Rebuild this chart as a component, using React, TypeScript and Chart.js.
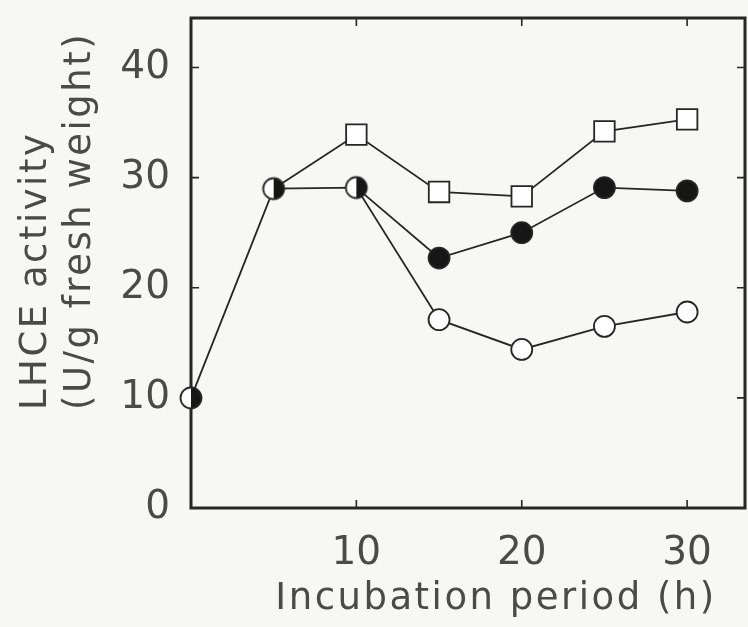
import React, { useEffect, useRef } from "react";
import { Chart, registerables } from "chart.js";

Chart.register(...registerables);

const openHours = [0, 5, 10, 15, 20, 25, 30];
const openValues = [10, 29, 29.1, 17.1, 14.4, 16.5, 17.8];
const filledHours = [10, 15, 20, 25, 30];
const filledValues = [29.1, 22.7, 25.0, 29.1, 28.8];
const squareHours = [5, 10, 15, 20, 25, 30];
const squareValues = [29, 33.9, 28.7, 28.3, 34.2, 35.3];
const halfFilledHours = [0, 5, 10];
const yTickValues = [0, 10, 20, 30, 40];
const xTickValues = [10, 20, 30];
const xTitle = "Incubation period (h)";
const yTitleLines = ["LHCE activity", "(U/g fresh weight)"];

const INK = "#262626";
const TEXT = "#4a4a4a";
const FONT = "'DejaVu Sans', sans-serif";

function makeHalfMarker(): HTMLCanvasElement {
  const c = document.createElement("canvas");
  c.width = 26;
  c.height = 26;
  const g = c.getContext("2d")!;
  const r = 10.5;
  g.beginPath();
  g.arc(13, 13, r, Math.PI / 2, (3 * Math.PI) / 2);
  g.closePath();
  g.fillStyle = "#ffffff";
  g.fill();
  g.beginPath();
  g.arc(13, 13, r, -Math.PI / 2, Math.PI / 2);
  g.closePath();
  g.fillStyle = "#161616";
  g.fill();
  g.beginPath();
  g.arc(13, 13, r, 0, Math.PI * 2);
  g.lineWidth = 1.8;
  g.strokeStyle = INK;
  g.stroke();
  return c;
}

const framePlugin = {
  id: "frameTicks",
  beforeDatasetsDraw(chart: any) {
    const { ctx, chartArea } = chart;
    const { left, right, top, bottom } = chartArea;
    ctx.save();
    ctx.strokeStyle = INK;
    ctx.lineWidth = 3;
    ctx.strokeRect(left, top, right - left, bottom - top);
    const xs = chart.scales.x;
    const ys = chart.scales.y;
    ctx.lineWidth = 1.6;
    const len = 8;
    for (const v of yTickValues) {
      if (v === 0) continue;
      const py = ys.getPixelForValue(v);
      ctx.beginPath();
      ctx.moveTo(left, py);
      ctx.lineTo(left + len, py);
      ctx.moveTo(right, py);
      ctx.lineTo(right - len, py);
      ctx.stroke();
    }
    for (const v of xTickValues) {
      const px = xs.getPixelForValue(v);
      ctx.beginPath();
      ctx.moveTo(px, bottom);
      ctx.lineTo(px, bottom - len);
      ctx.moveTo(px, top);
      ctx.lineTo(px, top + len);
      ctx.stroke();
    }
    ctx.restore();
  },
  afterDraw(chart: any) {
    const { ctx, chartArea } = chart;
    ctx.save();
    ctx.fillStyle = TEXT;
    ctx.font = "37px " + FONT;
    (ctx as any).letterSpacing = "2.5px";
    ctx.textBaseline = "middle";
    const startY = chartArea.top + (chartArea.bottom - chartArea.top) * 0.8;
    const xs = [36, 80];
    yTitleLines.forEach((line, i) => {
      ctx.save();
      ctx.translate(xs[i], startY);
      ctx.rotate(-Math.PI / 2);
      ctx.textAlign = "left";
      ctx.fillText(line, 0, 0);
      ctx.restore();
    });
    ctx.textAlign = "center";
    const cx = (chartArea.left + chartArea.right) / 2 + 28;
    ctx.fillText(xTitle, cx, chartArea.bottom + 91);
    ctx.restore();
  },
};

const zeroPadding = (s: any) => {
  s.paddingLeft = 0;
  s.paddingRight = 0;
  s.paddingTop = 0;
  s.paddingBottom = 0;
};

export default function App() {
  const ref = useRef<HTMLCanvasElement>(null);
  useEffect(() => {
    const half = makeHalfMarker();
    const openStyles = openHours.map((h) => (halfFilledHours.includes(h) ? half : "circle"));
    const chart = new Chart(ref.current!, {
      type: "scatter",
      data: {
        datasets: [
          {
            label: "open",
            data: openHours.map((h, i) => ({ x: h, y: openValues[i] })),
            showLine: true,
            borderColor: INK,
            borderWidth: 1.8,
            pointStyle: openStyles as any,
            pointRadius: 10.5,
            pointBorderWidth: 1.8,
            pointBorderColor: INK,
            pointBackgroundColor: "#ffffff",
            clip: false as any,
            order: 0,
          },
          {
            label: "filled",
            data: filledHours.map((h, i) => ({ x: h, y: filledValues[i] })),
            showLine: true,
            borderColor: INK,
            borderWidth: 1.8,
            pointStyle: "circle",
            pointRadius: filledHours.map((h, i) => (i === 0 ? 0 : 10.5)),
            pointBorderWidth: 1.8,
            pointBorderColor: INK,
            pointBackgroundColor: "#161616",
            clip: false as any,
            order: 1,
          },
          {
            label: "square",
            data: squareHours.map((h, i) => ({ x: h, y: squareValues[i] })),
            showLine: true,
            borderColor: INK,
            borderWidth: 1.8,
            pointStyle: "rect",
            pointRadius: squareHours.map((h, i) => (i === 0 ? 0 : 14.5)),
            pointBorderWidth: 1.8,
            pointBorderColor: INK,
            pointBackgroundColor: "#ffffff",
            clip: false as any,
            order: 2,
          },
        ],
      },
      options: {
        animation: false,
        responsive: false,
        maintainAspectRatio: false,
        layout: { autoPadding: false, padding: { top: 18, right: 3, left: 0, bottom: 0 } },
        plugins: { legend: { display: false }, tooltip: { enabled: false } },
        scales: {
          x: {
            type: "linear",
            min: 0,
            max: 33.5,
            grid: { display: false },
            border: { display: false },
            afterFit: (s: any) => {
              s.height = 119;
              zeroPadding(s);
            },
            afterBuildTicks: (s: any) => {
              s.ticks = xTickValues.map((v) => ({ value: v }));
            },
            ticks: {
              includeBounds: false,
              color: TEXT,
              padding: 14,
              font: { family: FONT, size: 39 },
            },
          },
          y: {
            type: "linear",
            min: 0,
            max: 44.5,
            grid: { display: false },
            border: { display: false },
            afterFit: (s: any) => {
              s.width = 191;
              zeroPadding(s);
            },
            afterBuildTicks: (s: any) => {
              s.ticks = yTickValues.map((v) => ({ value: v }));
            },
            ticks: {
              includeBounds: false,
              color: TEXT,
              padding: 13,
              font: { family: FONT, size: 39 },
            },
          },
        },
      },
      plugins: [framePlugin],
    });
    return () => chart.destroy();
  }, []);
  return (
    <div style={{ position: "fixed", left: 0, top: 0, width: 748, height: 627, background: "#f7f7f5" }}>
      <canvas ref={ref} width={748} height={627} style={{ display: "block", width: 748, height: 627 }} />
    </div>
  );
}
